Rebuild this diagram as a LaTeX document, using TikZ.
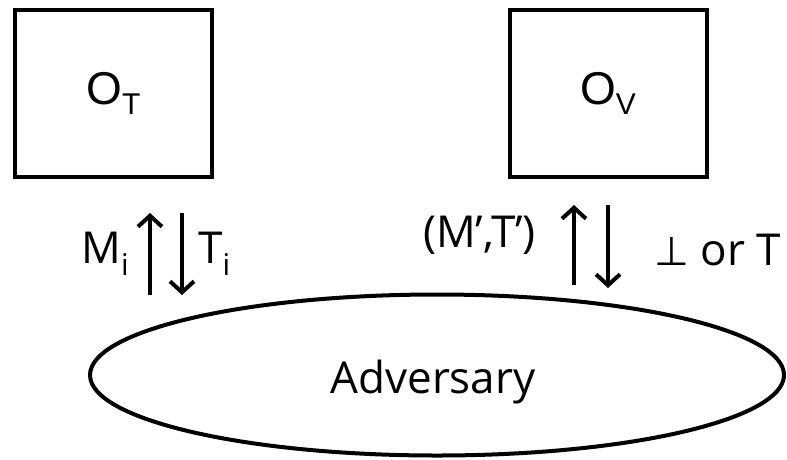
\documentclass[tikz,border=0pt]{standalone}
\usepackage{fontspec}
\setmainfont{Open Sans}
\newfontfamily\boxfont{Liberation Sans}
\newfontfamily\symfont{DejaVu Sans}
\usetikzlibrary{arrows.meta,shapes.geometric}
% lowered index in the same font
\newcommand{\lowsub}[2][11pt]{\raisebox{-#1}{\fontsize{30}{30}\selectfont #2}}

\begin{document}
\begin{tikzpicture}[x=1pt,y=-1pt,
    oracle/.style={draw, line width=4pt, minimum width=197pt, minimum height=167pt,
      inner sep=0pt, font=\boxfont\fontsize{46}{46}\selectfont},
    msg/.style={line width=4pt, -{Straight Barb[length=11pt,width=24pt]}},
    lbl/.style={inner sep=0pt, font=\fontsize{44}{44}\selectfont}]
    \useasboundingbox (0,0) rectangle (787,459);

    %%%%% oracles %%%%%
    \node[oracle] (OT) at (113.5,93.5) {O\lowsub[10pt]{T}};
    \node[oracle] (OV) at (608,93.5) {O\lowsub[10pt]{V}};

    %%%%% adversary %%%%%
    \node[draw, ellipse, line width=4pt, minimum width=694pt, minimum height=161pt,
      inner sep=0pt] (adv) at (437,375) {};
    \node[lbl, anchor=base] (advtxt) at (433,393) {Adversary};

    %%%%% queries to O_T %%%%%
    \coordinate (mi-s) at (150,295);
    \coordinate (mi-e) at (150,213);
    \coordinate (ti-s) at (182,213);
    \coordinate (ti-e) at (182,295);
    \draw[msg] (mi-s) -- (mi-e);
    \draw[msg] (ti-s) -- (ti-e);
    \node[lbl, anchor=base east] (mi) at (129,263) {M\lowsub[12pt]{i}};
    \node[lbl, anchor=base west] (ti) at (198,263) {T\lowsub[12pt]{i}};

    %%%%% forgery to O_V %%%%%
    \coordinate (mt-s) at (574,285);
    \coordinate (mt-e) at (574,205);
    \coordinate (ans-s) at (608,205);
    \coordinate (ans-e) at (608,288);
    \draw[msg] (mt-s) -- (mt-e);
    \draw[msg] (ans-s) -- (ans-e);
    \node[lbl, anchor=base east] (mt) at (536,247) {(M’,T’)};
    \node[lbl, anchor=base west] (ans) at (654,265) {{\symfont\fontsize{40}{40}\selectfont ⊥} or T};
\end{tikzpicture}
\end{document}
